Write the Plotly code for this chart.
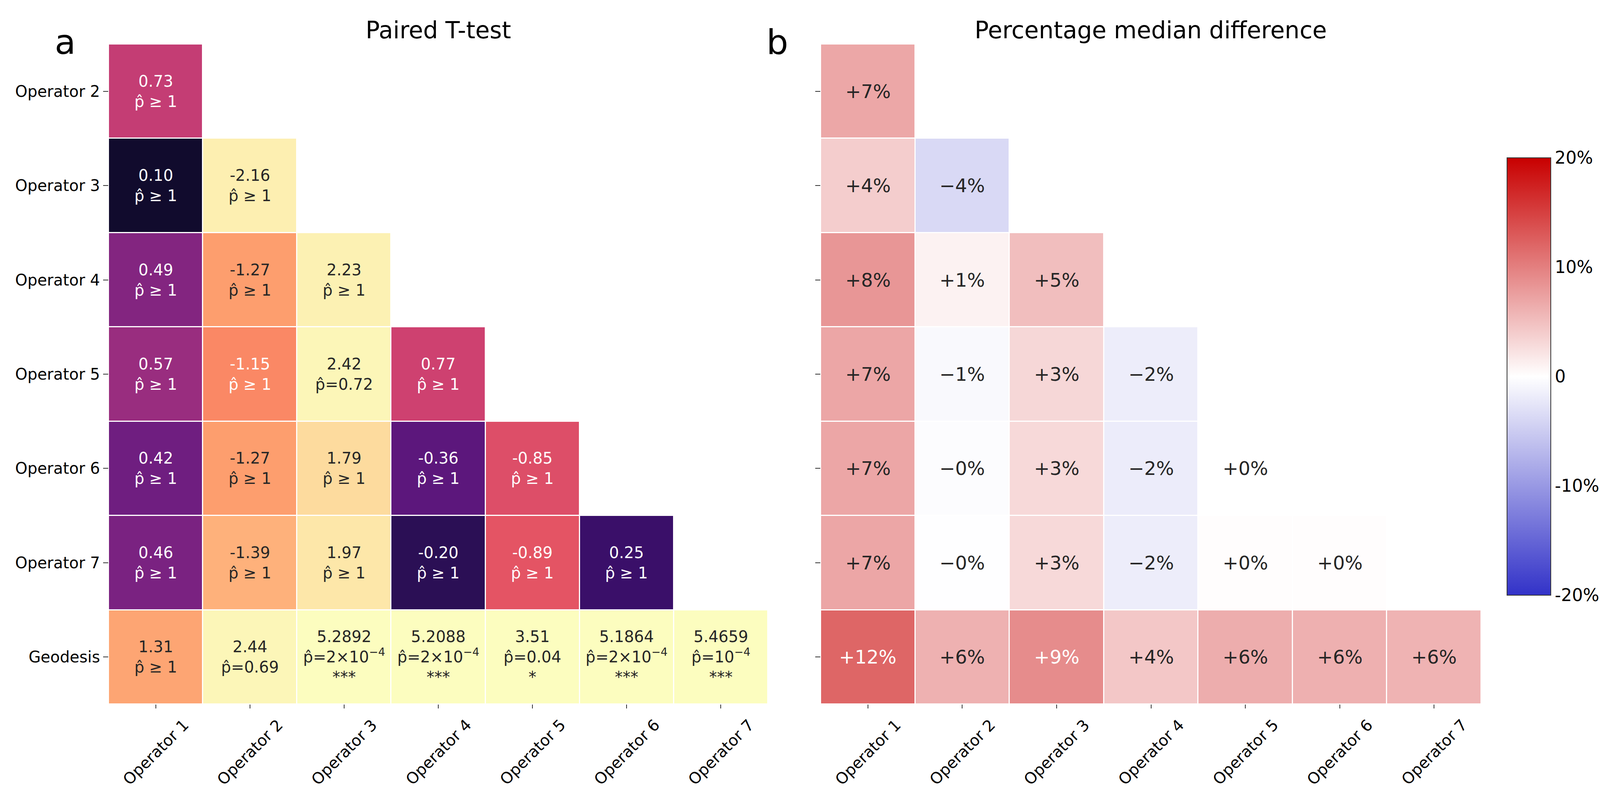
import math
import plotly.graph_objects as go

# Row / column labels of the lower-triangular comparison matrices
rows = ["Operator 2", "Operator 3", "Operator 4", "Operator 5", "Operator 6", "Operator 7", "Geodesis"]
cols = ["Operator 1", "Operator 2", "Operator 3", "Operator 4", "Operator 5", "Operator 6", "Operator 7"]

# Panel a: paired t statistic
t_stat = [
    [0.73],
    [0.10, -2.16],
    [0.49, -1.27, 2.23],
    [0.57, -1.15, 2.42, 0.77],
    [0.42, -1.27, 1.79, -0.36, -0.85],
    [0.46, -1.39, 1.97, -0.20, -0.89, 0.25],
    [1.31, 2.44, 5.2892, 5.2088, 3.51, 5.1864, 5.4659],
]
# corrected p-value labels
p_hat = [
    [" \u2265 1"],
    [" \u2265 1", " \u2265 1"],
    [" \u2265 1", " \u2265 1", " \u2265 1"],
    [" \u2265 1", " \u2265 1", "=0.72", " \u2265 1"],
    [" \u2265 1", " \u2265 1", " \u2265 1", " \u2265 1", " \u2265 1"],
    [" \u2265 1", " \u2265 1", " \u2265 1", " \u2265 1", " \u2265 1", " \u2265 1"],
    [" \u2265 1", "=0.69", "=2\u00d710<sup>\u22124</sup>", "=2\u00d710<sup>\u22124</sup>",
     "=0.04", "=2\u00d710<sup>\u22124</sup>", "=10<sup>\u22124</sup>"],
]
stars = [
    [""], ["", ""], ["", "", ""], ["", "", "", ""], ["", "", "", "", ""],
    ["", "", "", "", "", ""],
    ["", "", "***", "***", "*", "***", "***"],
]

# Panel b: percentage median difference
median_diff = [
    [6.9],
    [3.9, -3.7],
    [8.2, 1.0, 5.1],
    [7.0, -0.6, 3.1, -1.8],
    [7.0, -0.3, 3.0, -1.9, 0.0],
    [7.0, -0.05, 3.0, -1.8, 0.15, 0.15],
    [12.0, 6.1, 9.0, 4.4, 6.4, 6.2, 6.0],
]

FONT = "DejaVu Sans"
W, H = 4117, 2033
n = len(cols)


def pad(row):
    return row + [None] * (n - len(row))


# colour of panel a follows |t| through the normal cdf
z_a = [pad([math.erf(abs(v) / math.sqrt(2)) for v in r]) for r in t_stat]
z_b = [pad(r) for r in median_diff]

fig = go.Figure()
fig.add_trace(go.Heatmap(
    z=z_a, x=list(range(n)), y=list(range(len(rows))),
    colorscale="Magma", zmin=0, zmax=1, showscale=False,
    xgap=3, ygap=3, hoverinfo="skip", xaxis="x", yaxis="y",
))
fig.add_trace(go.Heatmap(
    z=z_b, x=list(range(n)), y=list(range(len(rows))),
    colorscale=[[0, "#3232c8"], [0.5, "#ffffff"], [1, "#c80000"]],
    zmin=-20, zmax=20, xgap=3, ygap=3, hoverinfo="skip", xaxis="x2", yaxis="y2",
    colorbar=dict(
        x=3858 / W, xanchor="left", xpad=0, y=1 - 964 / H, yanchor="middle", ypad=0,
        len=1120 / H, lenmode="fraction", thickness=112, thicknessmode="pixels",
        outlinewidth=2, outlinecolor="#333333", ticks="", ticklen=0,
        tickvals=[-20, -10, 0, 10, 20], ticktext=["-20%", "-10%", "0", "10%", "20%"],
        tickfont=dict(family=FONT, size=44, color="black"),
    ),
))

ann = []
for i, r in enumerate(t_stat):
    for j, v in enumerate(r):
        dec = 4 if stars[i][j] == "***" else 2
        txt = f"{v:.{dec}f}<br>p\u0302{p_hat[i][j]}"
        if stars[i][j]:
            txt += f"<br>{stars[i][j]}"
        col = "white" if z_a[i][j] < 0.77 else "#262626"
        ann.append(dict(x=j, y=i, xref="x", yref="y", text=txt, showarrow=False,
                        font=dict(family=FONT, size=40, color=col)))

for i, r in enumerate(median_diff):
    for j, v in enumerate(r):
        txt = f"{v:+.0f}%".replace("-", "\u2212")
        col = "white" if v > 8.5 else "#262626"
        ann.append(dict(x=j, y=i, xref="x2", yref="y2", text=txt, showarrow=False,
                        font=dict(family=FONT, size=48, color=col)))

# rotated x tick labels, centred under each tick
for xr in ["x", "x2"]:
    for j, c in enumerate(cols):
        ann.append(dict(x=j, y=1 - 1830 / H, xref=xr, yref="paper", text=c,
                        textangle=-45, xanchor="center", yanchor="top", showarrow=False,
                        font=dict(family=FONT, size=40, color="black")))

ann.append(dict(x=1122 / W, y=1 - 77 / H, xref="paper", yref="paper", text="Paired T-test",
                showarrow=False, xanchor="center", yanchor="middle",
                font=dict(family=FONT, size=60, color="black")))
ann.append(dict(x=2946 / W, y=1 - 77 / H, xref="paper", yref="paper",
                text="Percentage median difference", showarrow=False,
                xanchor="center", yanchor="middle", font=dict(family=FONT, size=60, color="black")))
ann.append(dict(x=167 / W, y=1 - 108 / H, xref="paper", yref="paper", text="a",
                showarrow=False, xanchor="center", yanchor="middle",
                font=dict(family=FONT, size=88, color="black")))
ann.append(dict(x=1990 / W, y=1 - 108 / H, xref="paper", yref="paper", text="b",
                showarrow=False, xanchor="center", yanchor="middle",
                font=dict(family=FONT, size=88, color="black")))

ydom = [1 - 1803 / H, 1 - 113 / H]
xcommon = dict(range=[-0.5, n - 0.5], showgrid=False, zeroline=False, showline=False,
               tickvals=list(range(n)), showticklabels=False, ticks="outside",
               ticklen=10, tickwidth=2, tickcolor="#333333")
ycommon = dict(range=[len(rows) - 0.5, -0.5], showgrid=False, zeroline=False, showline=False,
               tickvals=list(range(len(rows))), ticks="outside", ticklen=13, tickwidth=2,
               tickcolor="#333333")

fig.update_layout(
    width=W, height=H, margin=dict(l=0, r=0, t=0, b=0),
    paper_bgcolor="white", plot_bgcolor="white",
    xaxis=dict(domain=[278 / W, 1966 / W], anchor="y", **xcommon),
    yaxis=dict(domain=ydom, anchor="x", ticktext=rows,
               tickfont=dict(family=FONT, size=40, color="black"), **ycommon),
    xaxis2=dict(domain=[2101 / W, 3792 / W], anchor="y2", **xcommon),
    yaxis2=dict(domain=ydom, anchor="x2", showticklabels=False, **ycommon),
    annotations=ann,
)

# the page's default body margin would push the figure off the window
fig.write_html("out.html", config={"displayModeBar": False},
               post_script="document.body.style.margin='0';")
